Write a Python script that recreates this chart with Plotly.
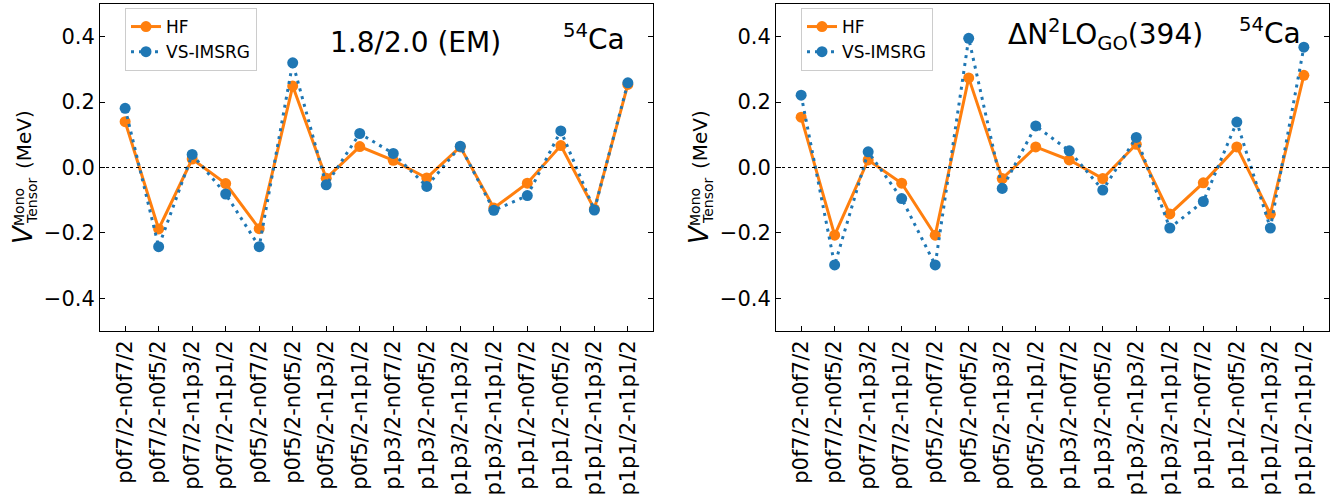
import plotly.graph_objects as go

W, H = 1338, 499

# orbital-pair labels (proton - neutron)
pairs = [
    "p0f7/2-n0f7/2", "p0f7/2-n0f5/2", "p0f7/2-n1p3/2", "p0f7/2-n1p1/2",
    "p0f5/2-n0f7/2", "p0f5/2-n0f5/2", "p0f5/2-n1p3/2", "p0f5/2-n1p1/2",
    "p1p3/2-n0f7/2", "p1p3/2-n0f5/2", "p1p3/2-n1p3/2", "p1p3/2-n1p1/2",
    "p1p1/2-n0f7/2", "p1p1/2-n0f5/2", "p1p1/2-n1p3/2", "p1p1/2-n1p1/2",
]

# tensor monopole, 1.8/2.0 (EM)
em_hf = [0.140, -0.188, 0.026, -0.049, -0.187, 0.249, -0.033, 0.064,
         0.022, -0.032, 0.063, -0.124, -0.048, 0.067, -0.127, 0.254]
em_imsrg = [0.181, -0.242, 0.040, -0.081, -0.242, 0.320, -0.053, 0.104,
            0.043, -0.058, 0.065, -0.131, -0.086, 0.112, -0.130, 0.259]

# tensor monopole, DeltaN2LO_GO(394)
go_hf = [0.154, -0.207, 0.023, -0.048, -0.207, 0.274, -0.034, 0.063,
         0.023, -0.034, 0.071, -0.142, -0.047, 0.063, -0.143, 0.282]
go_imsrg = [0.221, -0.298, 0.048, -0.095, -0.298, 0.395, -0.064, 0.127,
            0.051, -0.069, 0.092, -0.185, -0.104, 0.139, -0.185, 0.368]

ORANGE = "#ff7f0e"
BLUE = "#1f77b4"
FONT = "DejaVu Sans"

# panel frames in pixels: (left, right, top, bottom)
panels = [(100, 653, 4, 331), (776, 1329, 4, 331)]


def px(x):
    return x / W


def py(y):
    return 1 - y / H


def label(text, x, y, size, angle=0):
    fig.add_annotation(text=text, x=px(x), y=py(y), xref="paper", yref="paper",
                       xanchor="center", yanchor="middle", showarrow=False,
                       textangle=angle,
                       font=dict(family=FONT, size=size, color="black"))


fig = go.Figure()

series = [(em_hf, em_imsrg), (go_hf, go_imsrg)]
for i, (hf, ims) in enumerate(series):
    xa = "x" if i == 0 else "x2"
    ya = "y" if i == 0 else "y2"
    lg = "legend" if i == 0 else "legend2"
    xs = list(range(len(pairs)))
    fig.add_trace(go.Scatter(
        x=xs, y=hf, mode="lines+markers", name="HF",
        line=dict(color=ORANGE, width=3),
        marker=dict(color=ORANGE, size=11),
        xaxis=xa, yaxis=ya, legend=lg,
    ))
    fig.add_trace(go.Scatter(
        x=xs, y=ims, mode="lines+markers", name="VS-IMSRG",
        line=dict(color=BLUE, width=3, dash="3px,5px"),
        marker=dict(color=BLUE, size=11),
        xaxis=xa, yaxis=ya, legend=lg,
    ))

axis_common = dict(
    showline=True, linecolor="black", linewidth=1, mirror=True,
    ticks="inside", ticklen=5, tickwidth=1, tickcolor="black",
    showgrid=False, zeroline=False,
)

for i, (l, r, t, b) in enumerate(panels):
    sfx = "" if i == 0 else "2"
    fig.update_layout(**{
        f"xaxis{sfx}": dict(
            domain=[px(l), px(r)], range=[-0.75, 15.75],
            tickmode="array", tickvals=list(range(len(pairs))), ticktext=pairs,
            tickangle=-90, tickfont=dict(family=FONT, size=21, color="black"),
            anchor=f"y{sfx}", **axis_common,
        ),
        f"yaxis{sfx}": dict(
            domain=[py(b), py(t)], range=[-0.5, 0.5],
            tickmode="array", tickvals=[-0.4, -0.2, 0.0, 0.2, 0.4],
            ticktext=["\u22120.4", "\u22120.2", "0.0", "0.2", "0.4"],
            tickfont=dict(family=FONT, size=21, color="black"),
            anchor=f"x{sfx}", **{**axis_common, "mirror": "allticks"},
        ),
    })
    # dotted zero reference line
    fig.add_shape(type="line", xref=f"x{sfx} domain", yref=f"y{sfx}",
                  x0=0, x1=1, y0=0, y1=0,
                  line=dict(color="black", width=1, dash="dot"))

    # y-axis label built from pieces (stacked super/subscript)
    ox = l - 100
    label("<i>V</i>", ox + 23, 234, 26, -90)
    label("Mono", ox + 19, 207, 14, -90)
    label("Tensor", ox + 32, 201, 14, -90)
    label("(MeV)", ox + 24, 140, 20, -90)

    fig.update_layout(**{
        ("legend" if i == 0 else "legend2"): dict(
            x=px(l + 25), y=py(t + 4), xanchor="left", yanchor="top",
            xref="paper", yref="paper",
            bgcolor="rgba(255,255,255,0.8)", bordercolor="#cccccc", borderwidth=1,
            font=dict(family=FONT, size=17, color="black"),
            tracegroupgap=4, itemwidth=30,
        )
    })

# panel titles
label("1.8/2.0 (EM)", 415, 43, 28)
label("<sup>54</sup>Ca", 594, 38, 28)
label("\u0394N<sup>2</sup>LO<sub>GO</sub>(394)", 1105, 35, 28)
label("<sup>54</sup>Ca", 1270, 32, 28)

fig.update_layout(
    width=W, height=H, margin=dict(l=0, r=0, t=0, b=0),
    paper_bgcolor="white", plot_bgcolor="white",
    showlegend=True,
)

fig.write_html("out.html")
